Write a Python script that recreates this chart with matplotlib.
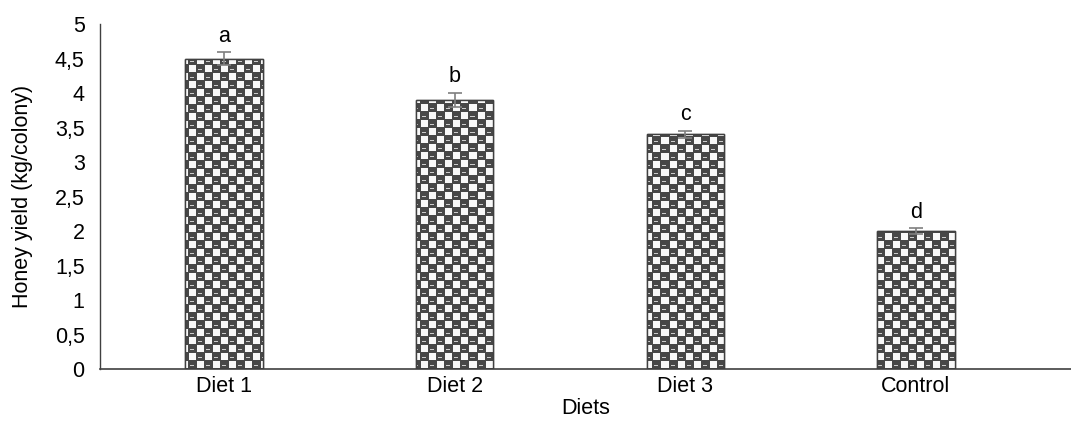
import numpy as np
import matplotlib
matplotlib.use('Agg')
import matplotlib.pyplot as plt

# data
diets = ['Diet 1', 'Diet 2', 'Diet 3', 'Control']
honey_yield = [4.5, 3.9, 3.4, 2.0]
yield_err = [0.09, 0.1, 0.05, 0.04]
letters = ['a', 'b', 'c', 'd']
y_ticks = [0, 0.5, 1, 1.5, 2, 2.5, 3, 3.5, 4, 4.5, 5]

plt.rcParams['font.family'] = ['Liberation Sans', 'DejaVu Sans']
FS = 15.5

W, H, DPI = 1071, 421, 100
fig = plt.figure(figsize=(W / DPI, H / DPI), dpi=DPI)
ax = fig.add_axes([100 / W, 1 - 369 / H, (W - 100) / W, (369 - 24) / H])

x = np.arange(len(diets))
bars = ax.bar(x, honey_yield, width=0.335, color='#444444',
              edgecolor='#404040', linewidth=1.0, zorder=2)
ax.errorbar(x, honey_yield, yerr=yield_err, fmt='none', ecolor='#7f7f7f',
            elinewidth=1.2, capsize=5, capthick=1.2, zorder=4)

ax.set_xlim(-0.5375, 3.672)
ax.set_ylim(0, 5)

# checkered texture, clipped to each bar
ax_w, ax_h = W - 100, 369 - 24
yy, xx = np.mgrid[0:ax_h, 0:ax_w]
cell = 8
tex = np.full((ax_h, ax_w), 0.28)
checker = ((xx // cell) + (yy // cell)) % 2 == 0
light = checker & ((xx % cell) >= 1) & ((yy % cell) >= 1)
tex[light] = 0.97
# small light dashes inside the dark cells
dash = (~checker) & ((yy % cell) == 5) & ((xx % cell) >= 2) & ((xx % cell) <= 5)
tex[dash] = 0.8
for b in bars:
    im = ax.imshow(tex, cmap='gray', vmin=0, vmax=1, interpolation='nearest',
                   extent=[*ax.get_xlim(), *ax.get_ylim()], aspect='auto',
                   origin='upper', zorder=2.5)
    im.set_clip_path(b)
    # redraw outline on top
    ax.bar(b.get_x() + b.get_width() / 2, b.get_height(), width=b.get_width(),
           fill=False, edgecolor='#404040', linewidth=1.0, zorder=3)

for xi, v, e, t in zip(x, honey_yield, yield_err, letters):
    ax.text(xi, v + e + 0.08, t, ha='center', va='bottom', fontsize=FS)

ax.set_yticks(y_ticks)
ax.set_yticklabels([f'{t:g}'.replace('.', ',') for t in y_ticks])
ax.set_xticks(x)
ax.set_xticklabels(diets)
ax.tick_params(axis='both', length=0, labelsize=FS, pad=11)
ax.tick_params(axis='x', pad=5)

for s in ['top', 'right']:
    ax.spines[s].set_visible(False)
ax.spines['left'].set_color('#404040')
ax.spines['bottom'].set_color('#404040')
ax.spines['left'].set_linewidth(1.0)
ax.spines['bottom'].set_linewidth(1.2)

ax.set_xlabel('Diets', fontsize=FS, labelpad=1)
ax.set_ylabel('Honey yield (kg/colony)', fontsize=FS, labelpad=16)

fig.savefig('out.png', dpi=DPI)
